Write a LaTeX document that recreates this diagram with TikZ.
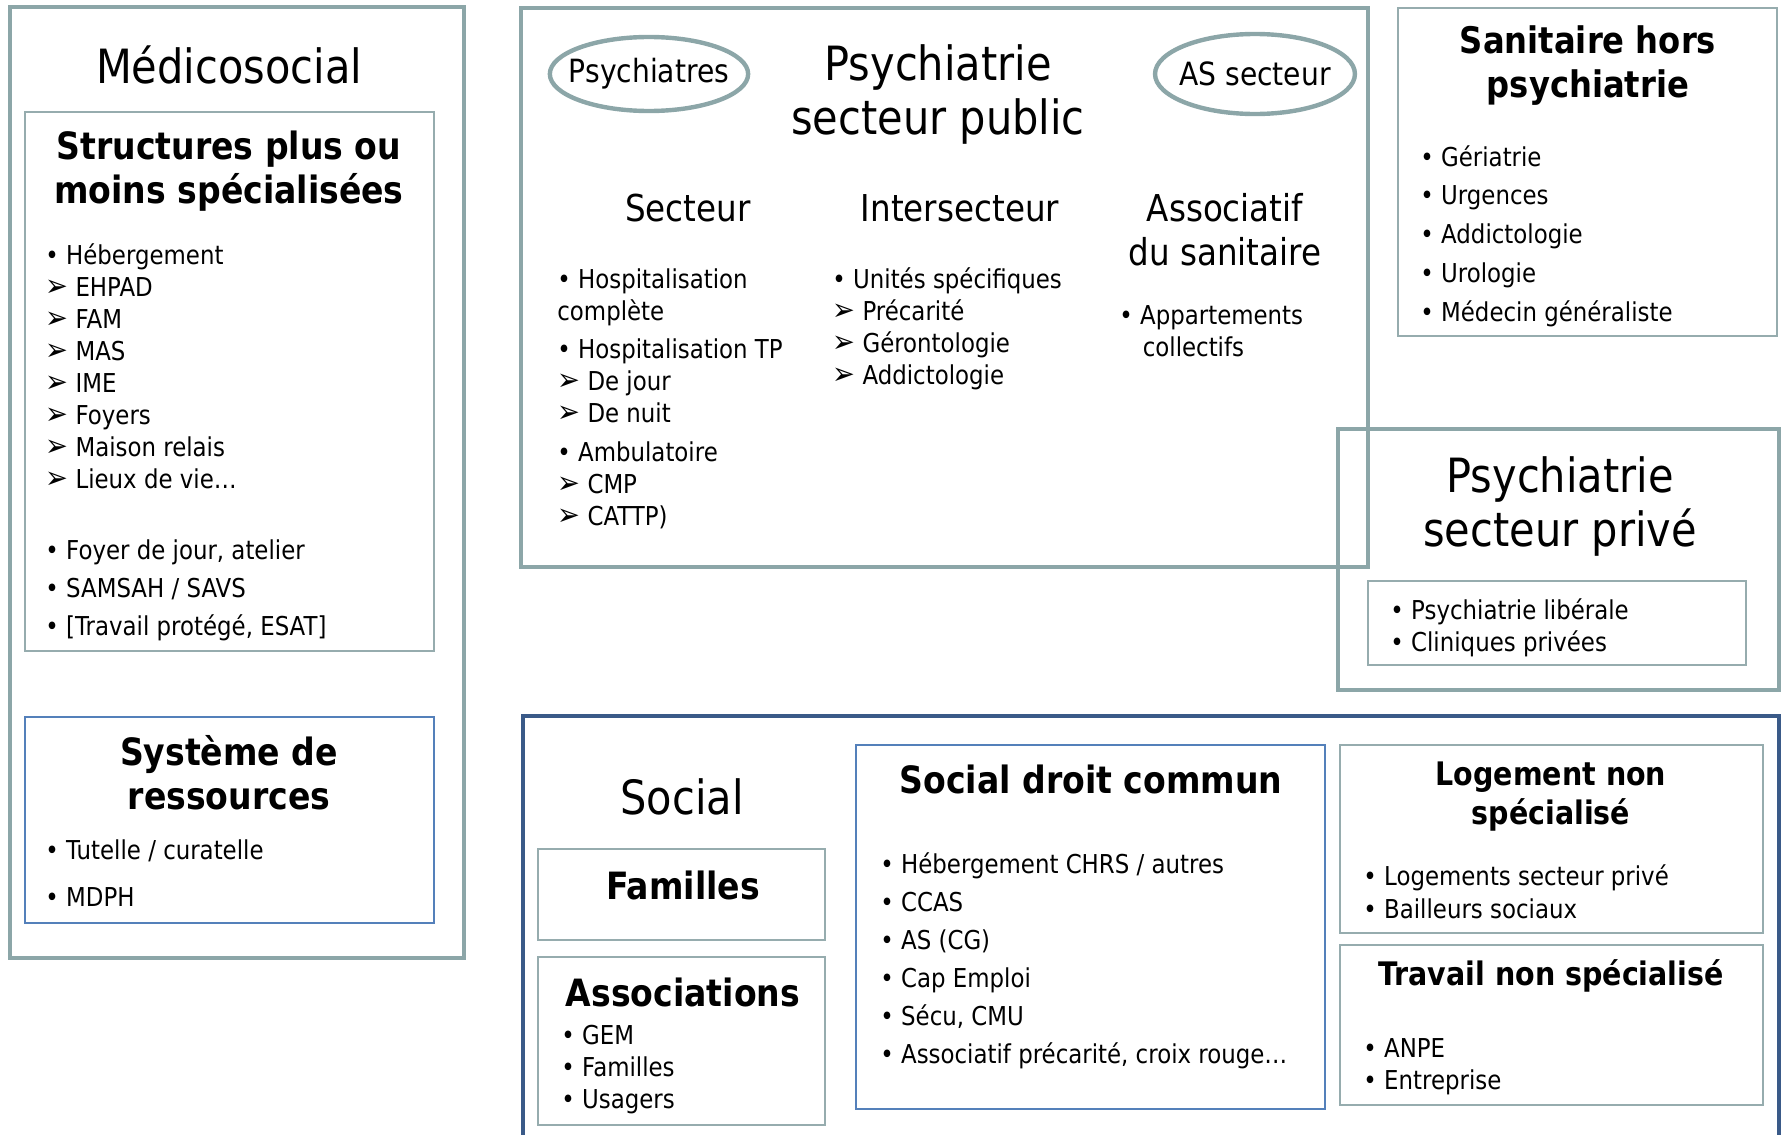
\documentclass[tikz,border=0pt]{standalone}
\usepackage{fontspec}
\setmainfont{DejaVu Sans}[FakeStretch=0.88]
\usetikzlibrary{shapes.geometric}

\definecolor{framegray}{RGB}{140,166,168}
\definecolor{panelgray}{RGB}{150,172,174}
\definecolor{socblue}{RGB}{58,90,136}
\definecolor{panelblue}{RGB}{84,128,186}

% sub-item arrowhead
\newcommand{\subarr}{{\fontsize{15.5}{15.5}\selectfont ➢}}

\begin{document}
\begin{tikzpicture}[x=0.5pt, y=-0.5pt,
  frame/.style={draw=framegray, line width=2.2pt},
  socframe/.style={draw=socblue, line width=2.2pt},
  panel/.style={draw=panelgray, line width=0.9pt},
  bluepanel/.style={draw=panelblue, line width=0.9pt},
  tag/.style={ellipse, draw=framegray, line width=2.2pt, inner ysep=0pt,
    minimum height=37pt, font=\fontsize{16}{19}\selectfont},
  title/.style={align=center, font=\fontsize{23.6}{27}\selectfont},
  head/.style={align=center, font=\fontsize{18.5}{22}\selectfont},
  boldhead/.style={align=center, font=\bfseries\fontsize{18.8}{22}\selectfont},
  items/.style={anchor=north west, align=left, inner sep=0pt, font=\fontsize{13}{16}\selectfont}
]
\useasboundingbox (0,0) rectangle (1785,1135);

% --- frames
\draw[frame] (10,7) rectangle (464,958);          % medicosocial
\draw[panel] (25,112) rectangle (434,651);
\draw[bluepanel] (25,717) rectangle (434,923);
\draw[frame] (521,8) rectangle (1368,567);        % psychiatrie publique
\draw[panel] (1398,8) rectangle (1777,336);       % sanitaire
\draw[frame] (1338,429) rectangle (1779,690);     % psychiatrie privee
\draw[panel] (1368,581) rectangle (1746,665);
\draw[socframe] (523,716) rectangle (1779,1150);  % social
\draw[panel] (538,849) rectangle (825,940);
\draw[panel] (538,957) rectangle (825,1125);
\draw[bluepanel] (856,745) rectangle (1325,1109);
\draw[panel] (1340,745) rectangle (1763,933);
\draw[panel] (1340,945) rectangle (1763,1105);

% --- medicosocial
\node[title] (medico) at (229,65) {Médicosocial};
\node[boldhead] (struct) at (229,171) {Structures plus ou\\moins spécialisées};
\node[items] (structA) at (45,243) {• Hébergement\\\subarr\ EHPAD\\\subarr\ FAM\\\subarr\ MAS\\\subarr\ IME\\\subarr\ Foyers\\\subarr\ Maison relais\\\subarr\ Lieux de vie…};
\node[items, font=\fontsize{13}{19}\selectfont] (structB) at (45,539) {• Foyer de jour, atelier\\• SAMSAH / SAVS\\• [Travail protégé, ESAT]};
\node[boldhead] (ressources) at (229,773) {Système de\\ressources};
\node[items] (resList) at (45,839) {• Tutelle / curatelle\\[7.5pt]• MDPH};

% --- psychiatrie secteur public
\node[title] (public) at (938,94) {Psychiatrie\\secteur public};
\node[tag, inner xsep=-5pt] (psychiatres) at (649,74) {Psychiatres};
\node[tag, inner xsep=-2.5pt, minimum height=40pt] (asSecteur) at (1255,74) {AS secteur};
\node[head] (secteur) at (688,208) {Secteur};
\node[head] (inter) at (960,208) {Intersecteur};
\node[head] (assoc) at (1225,230) {Associatif\\du sanitaire};
\node[items] (secList) at (557,268) {• Hospitalisation\\complète\\[3pt]• Hospitalisation TP\\\subarr\ De jour\\\subarr\ De nuit\\[3.5pt]• Ambulatoire\\\subarr\ CMP\\\subarr\ CATTP)};
\node[items] (interList) at (832,267) {• Unités spécifiques\\\subarr\ Précarité\\\subarr\ Gérontologie\\\subarr\ Addictologie};
\node[items] (assocList) at (1119,305) {• Appartements\\\hspace*{0.9em}collectifs};

% --- sanitaire hors psychiatrie
\node[boldhead, font=\bfseries\fontsize{18.3}{22}\selectfont] (sanitaire) at (1588,66) {Sanitaire hors\\psychiatrie};
\node[items, font=\fontsize{13}{19.4}\selectfont] (sanList) at (1420,145) {• Gériatrie\\• Urgences\\• Addictologie\\• Urologie\\• Médecin généraliste};

% --- psychiatrie secteur prive
\node[title] (prive) at (1560,506) {Psychiatrie\\secteur privé};
\node[items] (priveList) at (1390,598) {• Psychiatrie libérale\\• Cliniques privées};

% --- social
\node[title] (social) at (682,797) {Social};
\node[boldhead] (familles) at (683,885) {Familles};
\node[boldhead] (associations) at (683,992) {Associations};
\node[items] (assoList) at (561,1025) {• GEM\\• Familles\\• Usagers};
\node[boldhead] (droit) at (1091,779) {Social droit commun};
\node[items, font=\fontsize{13}{19}\selectfont] (droitList) at (880,852) {• Hébergement CHRS / autres\\• CCAS\\• AS (CG)\\• Cap Emploi\\• Sécu, CMU\\• Associatif précarité, croix rouge…};
\node[boldhead, font=\bfseries\fontsize{16.2}{19.5}\selectfont] (logement) at (1551,797) {Logement non\\spécialisé};
\node[items, font=\fontsize{13}{16.5}\selectfont] (logList) at (1363,864) {• Logements secteur privé\\• Bailleurs sociaux};
\node[boldhead, font=\bfseries\fontsize{16.2}{19.5}\selectfont] (travail) at (1551,976) {Travail non spécialisé};
\node[items] (travList) at (1363,1038) {• ANPE\\• Entreprise};
\end{tikzpicture}
\end{document}
